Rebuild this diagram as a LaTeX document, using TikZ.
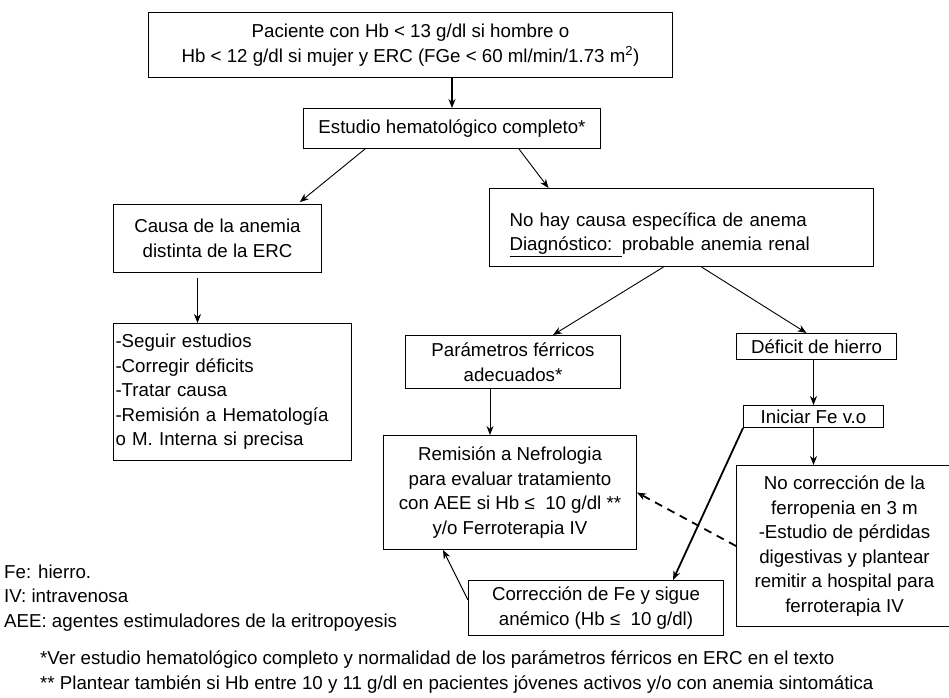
\documentclass[tikz,border=0pt]{standalone}
\usepackage{fontspec}
\setmainfont{Liberation Sans}
\usetikzlibrary{arrows.meta}
\newcommand{\boxfont}{\fontsize{18.7}{24.5}\selectfont}

\begin{document}
\begin{tikzpicture}[x=1pt,y=-1pt,>={Stealth[length=9pt,width=7pt]},
    box/.style={draw, line width=1pt, inner sep=0pt, align=center, anchor=north west, font=\boxfont},
    flow/.style={->, line width=0.9pt},
    bold/.style={->, line width=1.8pt},
    note/.style={inner sep=0pt, align=left, anchor=west, font=\boxfont}]
    \useasboundingbox (0,0) rectangle (949,697);

    \node[box, minimum width=524, minimum height=65] (paciente) at (148,12) {Paciente con Hb < 13 g/dl si hombre o\\ Hb < 12 g/dl si mujer y ERC (FGe < 60 ml/min/1.73 m\textsuperscript{2})};
    \node[box, minimum width=297, minimum height=40] (estudio) at (303,108) {Estudio hematológico completo*};
    \node[box, minimum width=208, minimum height=68] (causa) at (113,204) {Causa de la anemia\\ distinta de la ERC};
    \node[box, text width=344, inner xsep=20, minimum height=78, align=left] (nohay) at (489,188) {\rule{0pt}{28pt}No hay causa específica de anema\\ \underline{Diagnóstico: }probable anemia renal};
    \node[box, text width=234, inner xsep=2, minimum height=137, align=left] (seguir) at (113,323) {-Seguir estudios\\ -Corregir déficits\\ -Tratar causa\\ -Remisión a Hematología\\ o M. Interna si precisa};
    \node[box, minimum width=215, minimum height=53] (param) at (405,335) {Parámetros férricos\\ adecuados*};
    \node[box, minimum width=160, minimum height=26] (deficit) at (736,333) {Déficit de hierro};
    \node[box, minimum width=140, minimum height=22] (iniciar) at (743,405) {Iniciar Fe v.o};
    \node[box, minimum width=253, minimum height=114] (remision) at (383,435) {Remisión a Nefrologia\\ para evaluar tratamiento\\ con AEE si Hb ≤\ \ 10 g/dl **\\ y/o Ferroterapia IV};
    \node[box, minimum width=216, minimum height=161] (nocorr) at (736,465) {No corrección de la\\ ferropenia en 3 m\\ -Estudio de pérdidas\\ digestivas y plantear\\ remitir a hospital para\\ ferroterapia IV};
    \node[box, minimum width=255, minimum height=55] (correccion) at (468,580) {Corrección de Fe y sigue\\ anémico (Hb ≤\ \ 10 g/dl)};

    \node[note] (leyenda) at (4,598) {Fe: hierro.\\ IV: intravenosa\\ AEE: agentes estimuladores de la eritropoyesis};
    \node[note] (notas) at (40,672) {*Ver estudio hematológico completo y normalidad de los parámetros férricos en ERC en el texto\\ ** Plantear también si Hb entre 10 y 11 g/dl en pacientes jóvenes activos y/o con anemia sintomática};

    % conexiones
    \draw[bold] (paciente.south -| estudio.north) -- (estudio.north);
    \draw[flow, shorten >=3pt] ([xshift=-87]estudio.south) -- ([xshift=80]causa.north);
    \draw[flow] ([xshift=67]estudio.south) -- ([xshift=-133]nohay.north);
    \draw[flow, shorten <=5pt] ([xshift=-20]causa.south) -- ([xshift=-20]causa.south |- seguir.north);
    \draw[flow] ([xshift=-18]nohay.south) -- ([xshift=40]param.north);
    \draw[flow] ([xshift=20]nohay.south) -- ([xshift=-10]deficit.north);
    \draw[flow] ([xshift=-23]param.south) -- ([xshift=-23]param.south |- remision.north);
    \draw[flow] (deficit.south -| iniciar.north) -- (iniciar.north);
    \draw[flow] (iniciar.south) -- (iniciar.south |- nocorr.north);
    \draw[bold] (iniciar.south west) -- ([xshift=77]correccion.north);
    \draw[bold, dash pattern=on 8pt off 6pt] (nocorr.west) -- (remision.east);
    \draw[flow] ([yshift=-20]correccion.north west) -- ([xshift=-67]remision.south);
\end{tikzpicture}
\end{document}
